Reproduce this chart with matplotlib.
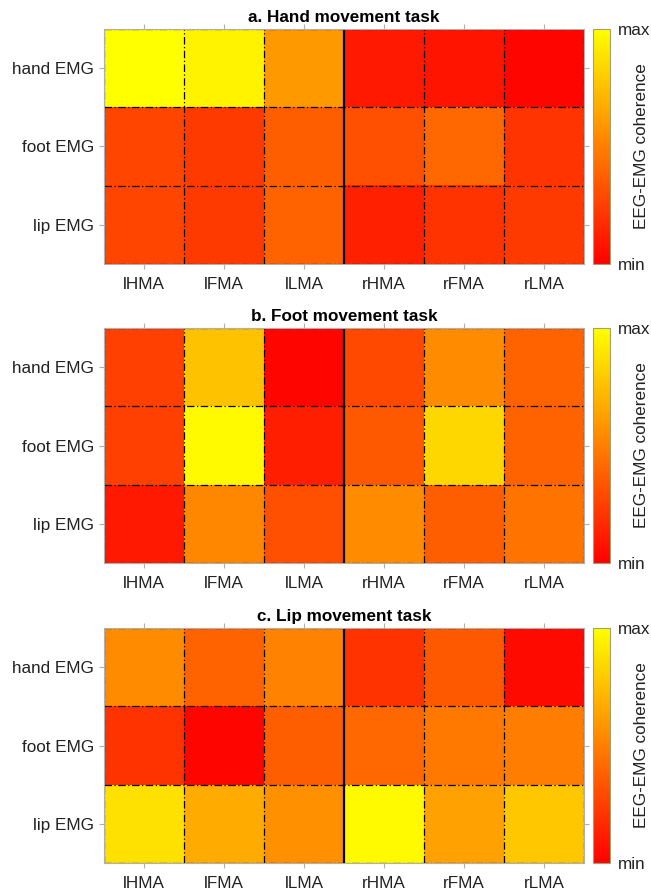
import numpy as np
import matplotlib
matplotlib.use("Agg")
import matplotlib.pyplot as plt
from matplotlib.colors import LinearSegmentedColormap

plt.rcParams['font.family'] = ['Liberation Sans', 'DejaVu Sans']

areas = ["lHMA", "lFMA", "lLMA", "rHMA", "rFMA", "rLMA"]
emgs = ["hand EMG", "foot EMG", "lip EMG"]
titles = ["a. Hand movement task", "b. Foot movement task", "c. Lip movement task"]

hand_task = [
    [1.00, 0.95, 0.60, 0.10, 0.08, 0.02],
    [0.27, 0.23, 0.37, 0.31, 0.41, 0.21],
    [0.27, 0.23, 0.39, 0.13, 0.20, 0.23],
]
foot_task = [
    [0.25, 0.76, 0.02, 0.29, 0.55, 0.39],
    [0.25, 0.98, 0.12, 0.35, 0.84, 0.39],
    [0.10, 0.53, 0.31, 0.55, 0.37, 0.45],
]
lip_task = [
    [0.55, 0.39, 0.51, 0.20, 0.35, 0.04],
    [0.20, 0.02, 0.37, 0.41, 0.47, 0.49],
    [0.88, 0.67, 0.57, 0.98, 0.63, 0.78],
]
panels = [hand_task, foot_task, lip_task]

cmap = LinearSegmentedColormap.from_list("ry", [(1, 0, 0), (1, 1, 0)])

W, H = 651, 892
fig = plt.figure(figsize=(W / 100, H / 100), dpi=100)
tops_px = [29, 328, 628]
ax_h_px = 235
ax_left, ax_right = 104 / W, 584 / W
cb_left, cb_right = 593 / W, 610 / W
FS = 12.3

for data, title, top in zip(panels, titles, tops_px):
    b = 1 - (top + ax_h_px) / H
    h = ax_h_px / H
    ax = fig.add_axes([ax_left, b, ax_right - ax_left, h])
    arr = np.array(data)
    im = ax.imshow(arr, cmap=cmap, vmin=0, vmax=1, aspect='auto',
                   extent=(0, len(areas), len(emgs), 0), interpolation='nearest')
    ax.set_xlim(0, len(areas))
    ax.set_ylim(len(emgs), 0)
    ax.set_xticks(np.arange(len(areas)) + 0.5)
    ax.set_xticklabels(areas, fontsize=FS, color='#222222')
    ax.set_yticks(np.arange(len(emgs)) + 0.5)
    ax.set_yticklabels(emgs, fontsize=FS, color='#222222')
    ax.tick_params(direction='out', length=3.5, color='#b0b0b0', width=0.8,
                   top=True, right=True, labeltop=False, labelright=False)
    ax.tick_params(axis='y', pad=3.5)
    ax.tick_params(axis='x', pad=6)
    for s in ax.spines.values():
        s.set_color('#b0b0b0')
        s.set_linewidth(0.8)
    for xv in range(0, len(areas) + 1):
        if xv == 3:
            continue
        ax.axvline(xv, color='black', linestyle='-.', linewidth=0.9, dashes=(6, 2, 1, 2))
    for yv in range(0, len(emgs) + 1):
        ax.axhline(yv, color='black', linestyle='-.', linewidth=0.9, dashes=(6, 2, 1, 2))
    ax.axvline(3, color='black', linestyle='-', linewidth=1.6)
    ax.set_title(title, fontsize=FS, fontweight='bold', pad=5)

    cax = fig.add_axes([cb_left, b, cb_right - cb_left, h])
    cb = fig.colorbar(im, cax=cax)
    cb.set_ticks([0, 1])
    cb.set_ticklabels(["min", "max"], fontsize=FS, color='#222222')
    cb.outline.set_edgecolor('#a0a070')
    cb.outline.set_linewidth(0.8)
    cax.tick_params(length=0, pad=6)
    fig.text(642 / W, b + h / 2, "EEG-EMG coherence", rotation=90,
             ha='center', va='center', fontsize=FS, color='#222222')

fig.savefig("out.png", dpi=100)
